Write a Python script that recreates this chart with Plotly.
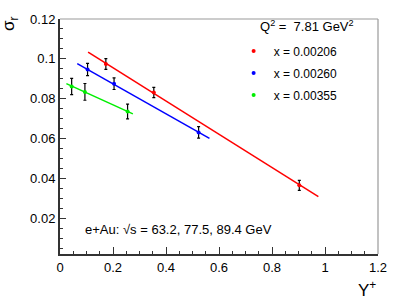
import plotly.graph_objects as go

# Data
labels = ["x = 0.00206", "x = 0.00260", "x = 0.00355"]
colors = ["#ff0000", "#0000ff", "#00ee00"]
ypl_vals = [[0.173, 0.354, 0.903], [0.104, 0.204, 0.523], [0.044, 0.094, 0.255]]
sigma_vals = [[0.0975, 0.0832, 0.0367], [0.0947, 0.0876, 0.0632], [0.0862, 0.0835, 0.0737]]
sigma_errs = [[0.0027, 0.0026, 0.0025], [0.0031, 0.0029, 0.0029], [0.0041, 0.0042, 0.0037]]
fit_x = [[0.106, 0.975], [0.065, 0.564], [0.024, 0.275]]
fit_y = [[0.1034, 0.0310], [0.0976, 0.0602], [0.0876, 0.0725]]

FONT = "Liberation Sans, Arial, Helvetica, sans-serif"

fig = go.Figure()
for i in range(3):
    fig.add_trace(go.Scatter(x=fit_x[i], y=fit_y[i], mode="lines",
                             line=dict(color=colors[i], width=1.5),
                             showlegend=False, hoverinfo="skip"))
for i in range(3):
    fig.add_trace(go.Scatter(x=ypl_vals[i], y=sigma_vals[i], mode="markers",
                             name=labels[i], legendgroup=str(i),
                             marker=dict(color=colors[i], size=4),
                             error_y=dict(type="data", array=sigma_errs[i],
                                          color="black", thickness=1.2, width=1.5)))

fig.update_layout(
    width=399, height=300,
    margin=dict(l=60, r=20, t=15, b=46),
    paper_bgcolor="white", plot_bgcolor="white",
    font=dict(family=FONT, size=13, color="black"),
    showlegend=True,
    legend=dict(x=0.546, y=0.926, xanchor="left", yanchor="top",
                bgcolor="rgba(0,0,0,0)", font=dict(size=12, family=FONT),
                tracegroupgap=3, itemwidth=30),
    xaxis=dict(range=[0, 1.2], tickvals=[0, 0.2, 0.4, 0.6, 0.8, 1, 1.2],
               ticktext=["0", "0.2", "0.4", "0.6", "0.8", "1", "1.2"],
               ticks="inside", ticklen=7, tickcolor="#333", tickwidth=1,
               showgrid=False, zeroline=False,
               showline=True, linecolor="#333", linewidth=2, mirror=False,
               minor=dict(ticks="inside", dtick=0.05, tick0=0, ticklen=3,
                          tickcolor="#333", showgrid=False),
               tickfont=dict(size=13)),
    yaxis=dict(range=[0.0023, 0.12], tickvals=[0.02, 0.04, 0.06, 0.08, 0.1, 0.12],
               ticktext=["0.02", "0.04", "0.06", "0.08", "0.1", "0.12"],
               ticks="inside", ticklen=6, tickcolor="#333", tickwidth=1,
               showgrid=False, zeroline=False,
               showline=True, linecolor="#333", linewidth=2,
               minor=dict(ticks="inside", dtick=0.005, tick0=0, ticklen=3,
                          tickcolor="#333", showgrid=False),
               tickfont=dict(size=13)),
    shapes=[
        dict(type="line", xref="paper", yref="paper", x0=0, x1=1, y0=1, y1=1,
             line=dict(color="#999", width=1.2)),
        dict(type="line", xref="paper", yref="paper", x0=1, x1=1, y0=0, y1=1,
             line=dict(color="#999", width=1.2)),
    ],
    annotations=[
        dict(text="Q<sup>2</sup> =  7.81 GeV<sup>2</sup>", xref="paper", yref="paper",
             x=0.622, y=0.972, xanchor="left", yanchor="middle", showarrow=False,
             font=dict(size=13, family=FONT)),
        dict(text="e+Au: √s = 63.2, 77.5, 89.4 GeV", xref="paper", yref="paper",
             x=0.072, y=0.104, xanchor="left", yanchor="middle", showarrow=False,
             font=dict(size=13, family=FONT)),
        dict(text="Y<sup>+</sup>", xref="paper", yref="paper",
             x=1.0, y=-0.151, xanchor="right", yanchor="middle", showarrow=False,
             font=dict(size=17, family=FONT)),
        dict(text="σ<sub>r</sub>", xref="paper", yref="paper",
             x=-0.157, y=0.979, xanchor="center", yanchor="middle", showarrow=False,
             textangle=-90, font=dict(size=17, family=FONT)),
    ],
)

# remove the page's default body margin so the figure sits at the window origin
fig.write_html("out.html", config={"displayModeBar": False},
               post_script="document.body.style.margin='0';")
